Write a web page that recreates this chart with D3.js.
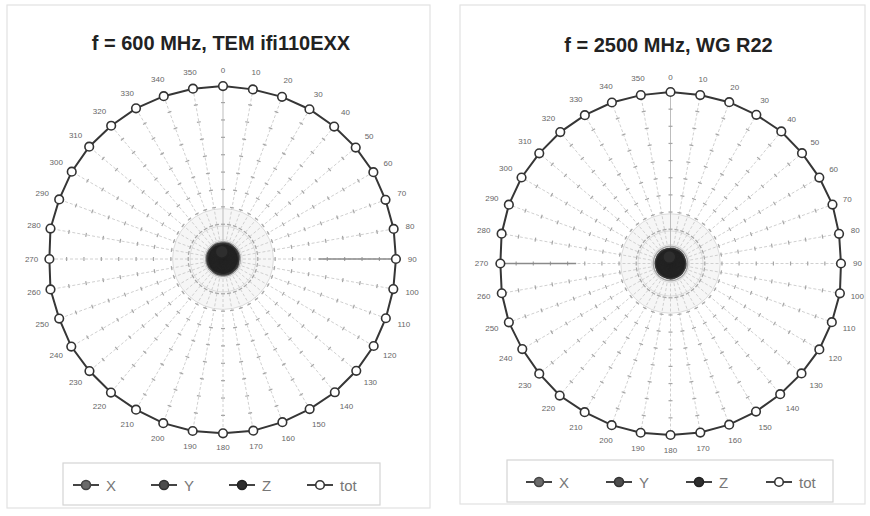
<!DOCTYPE html>
<html>
<head>
<meta charset="utf-8">
<script src="https://cdn.jsdelivr.net/npm/d3@7"></script>
<style>
  body { margin: 0; background: #fff; }
  text { font-family: "Liberation Sans", Arial, sans-serif; }
</style>
</head>
<body>
<svg id="chart" width="870" height="516"></svg>
<script>
// angular categories (degrees) and radial grid
const angles = [0, 10, 20, 30, 40, 50, 60, 70, 80, 90, 100, 110, 120, 130, 140, 150, 160, 170,
                180, 190, 200, 210, 220, 230, 240, 250, 260, 270, 280, 290, 300, 310, 320, 330, 340, 350];
const radialTicks = [0.1, 0.2, 0.3, 0.4, 0.5, 0.6, 0.7, 0.8, 0.9];
const gridRings = [0.11, 0.19, 0.29];
const seriesNames = ["X", "Y", "Z", "tot"];

// f = 600 MHz, TEM ifi110EXX
const x600 = [0.055, 0.054, 0.056, 0.055, 0.053, 0.054, 0.055, 0.056, 0.055, 0.054, 0.053, 0.055,
              0.056, 0.055, 0.054, 0.055, 0.056, 0.055, 0.054, 0.055, 0.056, 0.055, 0.054, 0.053,
              0.055, 0.056, 0.055, 0.054, 0.055, 0.056, 0.055, 0.054, 0.055, 0.056, 0.055, 0.054];
const y600 = [0.048, 0.050, 0.049, 0.047, 0.048, 0.050, 0.049, 0.048, 0.047, 0.049, 0.050, 0.048,
              0.049, 0.047, 0.048, 0.050, 0.049, 0.048, 0.047, 0.049, 0.050, 0.048, 0.049, 0.047,
              0.048, 0.050, 0.049, 0.048, 0.047, 0.049, 0.050, 0.048, 0.049, 0.047, 0.048, 0.050];
const z600 = [0.042, 0.043, 0.041, 0.042, 0.044, 0.043, 0.042, 0.041, 0.042, 0.043, 0.044, 0.042,
              0.041, 0.042, 0.043, 0.042, 0.041, 0.043, 0.044, 0.042, 0.041, 0.042, 0.043, 0.044,
              0.042, 0.041, 0.042, 0.043, 0.042, 0.041, 0.043, 0.042, 0.044, 0.042, 0.041, 0.042];
const tot600 = [0.995, 0.991, 0.993, 0.995, 0.995, 0.997, 0.999, 0.995, 0.997, 0.995, 0.995, 0.997,
                1.001, 1.001, 1.001, 0.997, 0.999, 1.003, 1.003, 1.005, 1.005, 1.001, 1.003, 1.003,
                1.008, 1.003, 1.008, 0.999, 1.008, 1.003, 1.005, 1.005, 1.001, 1.001, 0.997, 0.995];

// f = 2500 MHz, WG R22
const x2500 = [0.050, 0.051, 0.049, 0.050, 0.052, 0.051, 0.050, 0.049, 0.050, 0.051, 0.052, 0.050,
               0.049, 0.050, 0.051, 0.050, 0.049, 0.051, 0.052, 0.050, 0.049, 0.050, 0.051, 0.052,
               0.050, 0.049, 0.050, 0.051, 0.050, 0.049, 0.051, 0.050, 0.052, 0.050, 0.049, 0.050];
const y2500 = [0.046, 0.045, 0.047, 0.046, 0.044, 0.045, 0.046, 0.047, 0.046, 0.045, 0.044, 0.046,
               0.047, 0.046, 0.045, 0.046, 0.047, 0.046, 0.045, 0.046, 0.047, 0.046, 0.045, 0.044,
               0.046, 0.047, 0.046, 0.045, 0.046, 0.047, 0.046, 0.045, 0.046, 0.047, 0.046, 0.045];
const z2500 = [0.040, 0.041, 0.039, 0.040, 0.041, 0.040, 0.039, 0.040, 0.041, 0.040, 0.039, 0.041,
               0.040, 0.039, 0.040, 0.041, 0.040, 0.039, 0.041, 0.040, 0.039, 0.040, 0.041, 0.040,
               0.039, 0.040, 0.041, 0.040, 0.039, 0.041, 0.040, 0.039, 0.040, 0.041, 0.040, 0.039];
const tot2500 = [1.000, 0.997, 1.001, 1.001, 1.005, 1.001, 1.002, 1.005, 0.998, 0.994, 1.003, 1.001,
                 1.002, 0.997, 0.995, 0.997, 1.000, 1.001, 1.000, 1.002, 1.003, 1.001, 1.005, 0.999,
                 0.998, 1.003, 0.999, 0.992, 1.000, 1.003, 1.003, 0.999, 1.000, 0.999, 0.999, 0.997];

const charts = [
  { title: "f = 600 MHz, TEM ifi110EXX", series: [x600, y600, z600, tot600], probe: 90,
    cx: 223, cy: 259, R: 173.8, titleY: 50,
    frame: [7, 5, 423, 503], legendBox: [63, 463, 317, 42], legendX: 86, legendStep: 78, legendY: 485 },
  { title: "f = 2500 MHz, WG R22", series: [x2500, y2500, z2500, tot2500], probe: 270,
    cx: 670.5, cy: 263.5, R: 171.5, titleY: 52,
    frame: [460, 5, 405, 499], legendBox: [507, 460, 326, 42], legendX: 539, legendStep: 80, legendY: 482 }
];

const styles = {
  X:   { line: "#555", fill: "#6b6b6b", stroke: "#444", r: 6.5, lr: 4.5 },
  Y:   { line: "#555", fill: "#4d4d4d", stroke: "#333", r: 6.5, lr: 4.5 },
  Z:   { line: "#444", fill: "#2e2e2e", stroke: "#222", r: 6.5, lr: 4.5 },
  tot: { line: "#363636", fill: "#fff", stroke: "#333", r: 4.3, lr: 4.3 }
};

const svg = d3.select("#chart");
const rad = d => d * Math.PI / 180;

function drawChart(c) {
  const g = svg.append("g");

  // panel frame
  g.append("rect")
    .attr("x", c.frame[0]).attr("y", c.frame[1])
    .attr("width", c.frame[2]).attr("height", c.frame[3])
    .attr("fill", "none").attr("stroke", "#e2e2e2").attr("stroke-width", 1.2);

  g.append("text")
    .attr("x", c.cx - 2).attr("y", c.titleY)
    .attr("text-anchor", "middle")
    .style("font-size", "20px").style("font-weight", "bold").style("fill", "#222")
    .text(c.title);

  const r = d3.scaleLinear().domain([0, 1]).range([0, c.R]);
  const plot = g.append("g").attr("transform", `translate(${c.cx},${c.cy})`);

  // faint shading + rings near centre
  plot.append("circle").attr("r", r(0.29)).attr("fill", "#f6f6f6");
  plot.selectAll(".ring").data(gridRings).enter().append("circle")
    .attr("r", d => r(d))
    .attr("fill", "none").attr("stroke", "#dcdcdc").attr("stroke-width", 1);

  // spokes
  plot.selectAll(".spoke").data(angles).enter().append("line")
    .attr("x1", 0).attr("y1", 0)
    .attr("x2", d => d3.pointRadial(rad(d), r(1))[0])
    .attr("y2", d => d3.pointRadial(rad(d), r(1))[1])
    .attr("stroke", d => d === 0 ? "#b5b5b5" : "#cbcbcb")
    .attr("stroke-width", 0.9)
    .attr("stroke-dasharray", d => d === 0 ? null : "3,2");

  // tick marks along the spokes
  const ticks = [];
  angles.forEach(a => radialTicks.forEach(t => ticks.push({ a, t })));
  plot.selectAll(".tk").data(ticks).enter().append("line")
    .attr("transform", d => {
      const p = d3.pointRadial(rad(d.a), r(d.t));
      return `translate(${p[0]},${p[1]}) rotate(${d.a})`;
    })
    .attr("x1", -2).attr("x2", 2).attr("y1", 0).attr("y2", 0)
    .attr("stroke", "#a5a5a5").attr("stroke-width", 1.2);

  // solid probe direction line
  const p0 = d3.pointRadial(rad(c.probe), r(0.55));
  const p1 = d3.pointRadial(rad(c.probe), r(1));
  plot.append("line")
    .attr("x1", p0[0]).attr("y1", p0[1]).attr("x2", p1[0]).attr("y2", p1[1])
    .attr("stroke", "#8a8a8a").attr("stroke-width", 1.3);

  // series
  const line = d3.lineRadial()
    .angle((d, i) => rad(angles[i]))
    .radius(d => r(d))
    .curve(d3.curveLinearClosed);

  c.series.forEach((vals, si) => {
    const s = styles[seriesNames[si]];
    plot.append("path")
      .attr("d", line(vals))
      .attr("fill", "none")
      .attr("stroke", s.line)
      .attr("stroke-width", seriesNames[si] === "tot" ? 2 : 1.5);
    plot.selectAll(".m" + si).data(vals).enter().append("circle")
      .attr("cx", (d, i) => d3.pointRadial(rad(angles[i]), r(d))[0])
      .attr("cy", (d, i) => d3.pointRadial(rad(angles[i]), r(d))[1])
      .attr("r", s.r)
      .attr("fill", s.fill).attr("stroke", s.stroke).attr("stroke-width", 1.6);
  });

  // angular labels
  const labelPos = d => {
    const w = String(d).length * 4.4;
    const dd = c.R + 11 + (w / 2) * Math.abs(Math.sin(rad(d))) + 4 * Math.abs(Math.cos(rad(d)));
    return d3.pointRadial(rad(d), dd);
  };
  plot.selectAll(".al").data(angles).enter().append("text")
    .attr("x", d => labelPos(d)[0])
    .attr("y", d => labelPos(d)[1])
    .attr("text-anchor", "middle")
    .attr("dominant-baseline", "central")
    .style("font-size", "8px").style("fill", "#666")
    .text(d => d);

  // legend
  g.append("rect")
    .attr("x", c.legendBox[0]).attr("y", c.legendBox[1])
    .attr("width", c.legendBox[2]).attr("height", c.legendBox[3])
    .attr("fill", "none").attr("stroke", "#d4d4d4").attr("stroke-width", 1.2);

  const items = g.selectAll(".lg").data(seriesNames).enter().append("g")
    .attr("transform", (d, i) => `translate(${c.legendX + i * c.legendStep},${c.legendY})`);
  items.append("line")
    .attr("x1", -13).attr("x2", 13)
    .attr("stroke", "#444").attr("stroke-width", 2);
  items.append("circle")
    .attr("r", d => styles[d].lr)
    .attr("fill", d => styles[d].fill).attr("stroke", d => styles[d].stroke).attr("stroke-width", 1.6);
  items.append("text")
    .attr("x", 20).attr("dominant-baseline", "central")
    .style("font-size", "15px").style("fill", "#777")
    .text(d => d);
}

charts.forEach(drawChart);
</script>
</body>
</html>
